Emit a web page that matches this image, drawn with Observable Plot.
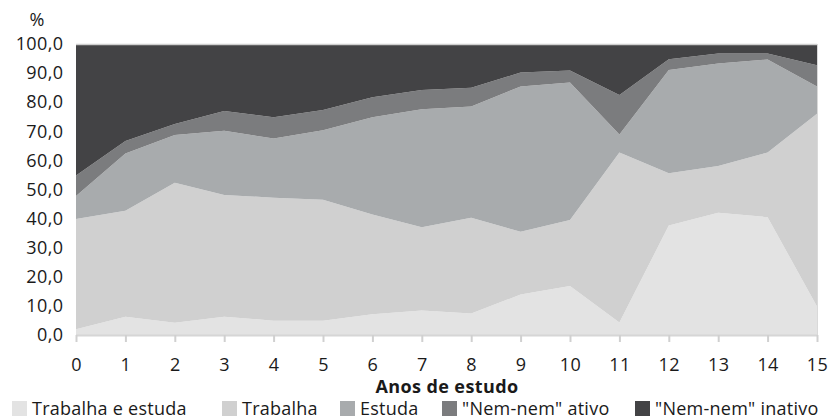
<!DOCTYPE html>
<html>
<head>
<meta charset="utf-8">
<script src="https://cdn.jsdelivr.net/npm/d3@7"></script>
<script src="https://cdn.jsdelivr.net/npm/@observablehq/plot@0.6"></script>
<style>
  html, body { margin: 0; padding: 0; background: #fff; }
  body { width: 833px; height: 420px; overflow: hidden; font-family: "Open Sans", sans-serif; position: relative; }
  #chart { position: absolute; left: 0; top: 0; }
  #legend { position: absolute; left: 0; top: 398px; width: 833px; height: 20px; font-size: 18px; letter-spacing: 0.25px; color: #1a1a1a; }
  .item { position: absolute; top: 0; display: flex; align-items: center; white-space: nowrap; line-height: 20px; height: 20px; }
  .sw { width: 15px; height: 15px; margin-right: 5px; display: inline-block; }
</style>
</head>
<body>
<div id="chart"></div>
<div id="legend"></div>
<script>
const anos = [0,1,2,3,4,5,6,7,8,9,10,11,12,13,14,15];
const series = ["Trabalha e estuda", "Trabalha", "Estuda", "\"Nem-nem\" ativo", "\"Nem-nem\" inativo"];
const colors = ["#e3e3e3", "#d0d0d0", "#a8abad", "#7b7c7e", "#434345"];
const trabalhaEstuda = [2.0,6.3,4.2,6.3,4.9,4.9,7.1,8.4,7.4,13.9,16.8,4.3,37.6,42.0,40.5,9.8];
const trabalha      = [37.9,36.4,48.1,41.8,42.3,41.6,34.3,28.6,32.9,21.6,22.7,58.4,18.0,16.1,22.2,66.2];
const estuda        = [7.9,19.7,16.4,22.1,20.3,23.9,33.4,40.6,38.2,49.9,47.3,6.2,35.5,35.2,32.0,9.4];
const nemAtivo      = [7.0,4.3,3.8,6.8,7.3,6.9,6.9,6.6,6.5,4.8,4.1,13.6,3.7,3.4,2.0,7.3];
const nemInativo    = [45.2,33.3,27.5,23.0,25.2,22.7,18.3,15.8,15.0,9.8,9.1,17.5,5.2,3.3,3.3,7.3];
const yTicks = [0,10,20,30,40,50,60,70,80,90,100];

const values = [trabalhaEstuda, trabalha, estuda, nemAtivo, nemInativo];
const data = [];
series.forEach((s, i) => anos.forEach((a, j) => data.push({ano: a, serie: s, valor: values[i][j]})));

const fmt = d => d.toFixed(1).replace(".", ",");

const chart = Plot.plot({
  width: 833,
  height: 401,
  marginTop: 44,
  marginBottom: 66,
  marginLeft: 76,
  marginRight: 16,
  style: {fontFamily: "Open Sans, sans-serif", fontSize: "18px", color: "#1a1a1a", background: "transparent", letterSpacing: "0.4px"},
  x: {domain: [0, 15]},
  y: {domain: [0, 100]},
  color: {domain: series, range: colors},
  marks: [
    Plot.areaY(data, {x: "ano", y: "valor", fill: "serie", z: "serie", order: series}),
    Plot.ruleY([100], {stroke: "#cfcfcf", strokeWidth: 1.5}),
    Plot.ruleX([15], {stroke: "#d9d9d9", strokeWidth: 1}),
    Plot.ruleY([0], {stroke: "#d6d6d6", strokeWidth: 2}),
    Plot.axisY({ticks: yTicks, tickFormat: fmt, tickSize: 0, tickPadding: 13, label: null, fontSize: 18}),
    Plot.axisX({ticks: anos, tickFormat: d => String(d), tickSize: 7, stroke: "#d0d0d0", strokeWidth: 2, tickPadding: 16, label: null, fontSize: 18}),
    Plot.text(["Anos de estudo"], {frameAnchor: "bottom", lineAnchor: "middle", dy: 52, fontWeight: "bold", fontSize: 18}),
    Plot.text(["%"], {frameAnchor: "top-left", textAnchor: "start", lineAnchor: "middle", dx: -47, dy: -24, fontSize: 18})
  ]
});
document.getElementById("chart").appendChild(chart);

const legendX = [12, 222, 340, 442, 635];
const legend = document.getElementById("legend");
series.forEach((s, i) => {
  const it = document.createElement("div");
  it.className = "item";
  it.style.left = legendX[i] + "px";
  const sw = document.createElement("span");
  sw.className = "sw";
  sw.style.background = colors[i];
  const t = document.createElement("span");
  t.textContent = s;
  it.appendChild(sw);
  it.appendChild(t);
  legend.appendChild(it);
});
</script>
</body>
</html>
